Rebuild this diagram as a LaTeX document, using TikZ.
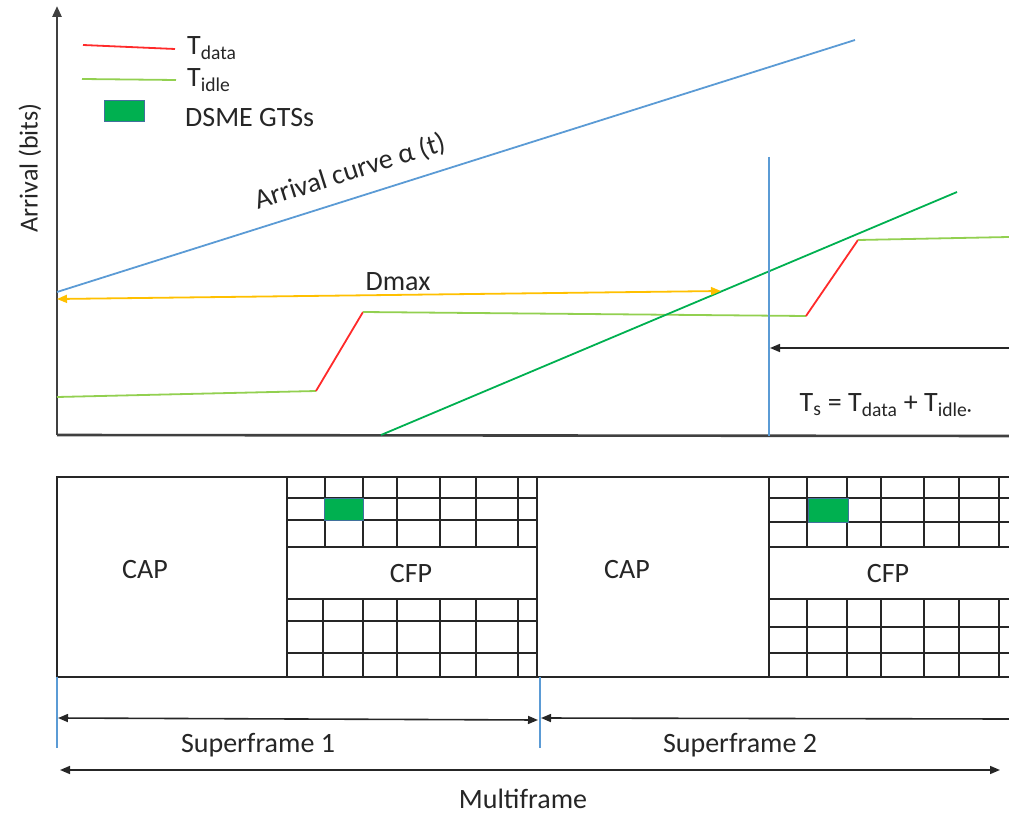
\documentclass[tikz,border=0pt]{standalone}
\usepackage{fontspec}
\setmainfont{Carlito}
\usetikzlibrary{arrows.meta}
\definecolor{curveblue}{HTML}{5B9BD5}
\definecolor{idlegreen}{HTML}{92D050}
\definecolor{datared}{HTML}{FF2A2A}
\definecolor{dmaxyellow}{HTML}{FFC000}
\definecolor{servgreen}{HTML}{00B050}
\definecolor{gtsedge}{HTML}{41719C}
\definecolor{axisgrey}{HTML}{404040}
\begin{document}
\begin{tikzpicture}[x=1pt,y=-1pt,
  lbl/.style={font=\fontsize{28}{32}\selectfont, inner sep=0pt, text=black!85},
  axisline/.style={draw=axisgrey, line width=2.6pt},
  gridline/.style={draw=black!85, line width=1.7pt},
  idle/.style={draw=idlegreen, line width=1.8pt},
  data/.style={draw=datared, line width=1.8pt},
  tipend/.style={-{Triangle[length=10pt,width=8pt]}},
  tipboth/.style={{Triangle[length=10pt,width=8pt]}-{Triangle[length=10pt,width=8pt]}},
  marker/.style={draw=curveblue, line width=1.3pt},
  gts/.style={fill=servgreen, draw=gtsedge, line width=1pt}
]
\useasboundingbox (0,0) rectangle (1009,813);

% ---------- axes ----------
\coordinate (O) at (57,435);
\coordinate (ytop) at (57,6);
\coordinate (xend) at (1009,436);
\draw[axisline, -{Triangle[length=11pt,width=9pt]}] (O) -- (ytop);
\draw[axisline] (O) -- (xend);
\node[lbl, font=\fontsize{26}{30}\selectfont, rotate=90] (ylabel) at (30,168) {Arrival (bits)};

% ---------- legend ----------
\draw[data] (83,45) -- (175,49);
\node[lbl, anchor=west] (ldata) at (187,48) {T\textsubscript{data}};
\draw[idle] (82,79) -- (176,80);
\node[lbl, anchor=west] (lidle) at (187,80) {T\textsubscript{idle}};
\draw[gts] (104,101) rectangle (144,122);
\node[lbl, anchor=west] (lgts) at (185,118) {DSME GTSs};

% ---------- arrival curve ----------
\coordinate (a0) at (57,292);
\coordinate (a1) at (855,40);
\draw[draw=curveblue, line width=1.8pt] (a0) -- (a1);
\node[lbl, rotate=17.5] (alabel) at (350,172) {Arrival curve α (t)};

% ---------- service curve ----------
\coordinate (s0) at (57,397);
\coordinate (s1) at (316,391);
\coordinate (s2) at (363,312);
\coordinate (s3) at (806,316);
\coordinate (s4) at (858,240);
\coordinate (s5) at (1009,237);
\draw[idle] (s0) -- (s1);
\draw[data] (s1) -- (s2);
\draw[idle] (s2) -- (s3);
\draw[data] (s3) -- (s4);
\draw[idle] (s4) -- (s5);

% ---------- rate line ----------
\coordinate (r0) at (381,435);
\coordinate (r1) at (957,192);
\draw[draw=servgreen, line width=1.8pt] (r0) -- (r1);

% ---------- maximum delay ----------
\coordinate (d0) at (57,299);
\coordinate (d1) at (721,291);
\draw[draw=dmaxyellow, line width=1.8pt, tipboth] (d0) -- (d1);
\node[lbl] (dmax) at (398,282) {Dmax};

% ---------- superframe duration ----------
\coordinate (v0) at (769,157);
\coordinate (v1) at (769,436);
\draw[marker] (v0) -- (v1);
\coordinate (ts0) at (1009,348);
\coordinate (ts1) at (770,348);
\draw[draw=black!85, line width=1.6pt, tipend] (ts0) -- (ts1);
\node[lbl] (tslabel) at (886,405) {T\textsubscript{s} = T\textsubscript{data} + T\textsubscript{idle·}};

% ---------- superframe structure ----------
\draw[gridline] (1009,477) -- (57,477) -- (57,677) -- (1009,677);
\draw[gridline] (287,477) -- (287,677);
\draw[gridline] (537,477) -- (537,677);
\draw[gridline] (769,477) -- (769,677);
% superframe 1 slots
\foreach \x in {325,363,397,440,476,518} \draw[gridline] (\x,477) -- (\x,547);
\foreach \y in {498,520,547,599,621,653} \draw[gridline] (287,\y) -- (537,\y);
\foreach \x in {323,363,397,440,476,518} \draw[gridline] (\x,599) -- (\x,677);
% superframe 2 slots
\foreach \x in {807,847,881,924,959,999} \draw[gridline] (\x,477) -- (\x,547);
\foreach \y in {498,522,547,599,627,653} \draw[gridline] (769,\y) -- (1009,\y);
\foreach \x in {807,847,881,924,959,999} \draw[gridline] (\x,599) -- (\x,677);
% allocated GTS slots
\draw[gts] (324,498) rectangle (363,520);
\draw[gts] (808,498) rectangle (848,522);

\node[lbl] (cap1) at (145,570) {CAP};
\node[lbl] (cfp1) at (411,574) {CFP};
\node[lbl] (cap2) at (627,570) {CAP};
\node[lbl] (cfp2) at (888,574) {CFP};

% ---------- timing arrows ----------
\coordinate (b0t) at (57,677);
\coordinate (b0b) at (57,748);
\coordinate (b1t) at (540,677);
\coordinate (b1b) at (540,748);
\draw[marker] (b0t) -- (b0b);
\draw[marker] (b1t) -- (b1b);

\coordinate (sf1a) at (58,718);
\coordinate (sf1b) at (538,720);
\draw[draw=black!85, line width=1.6pt, tipboth] (sf1a) -- (sf1b);
\node[lbl] (sf1) at (258,745) {Superframe 1};

\coordinate (sf2a) at (1009,719);
\coordinate (sf2b) at (541,718);
\draw[draw=black!85, line width=1.6pt, tipend] (sf2a) -- (sf2b);
\node[lbl] (sf2) at (740,745) {Superframe 2};

\coordinate (mfa) at (60,770);
\coordinate (mfb) at (1000,770);
\draw[draw=black!85, line width=1.6pt, tipboth] (mfa) -- (mfb);
\node[lbl, anchor=base] (mf) at (523,808) {Multiframe};
\end{tikzpicture}
\end{document}
